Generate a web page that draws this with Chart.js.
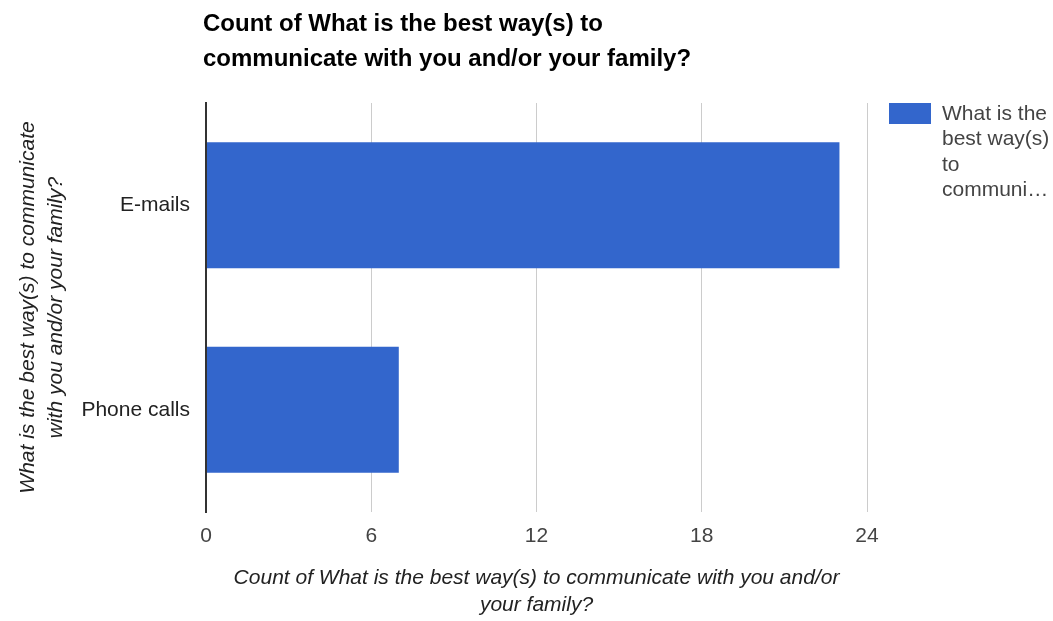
<!DOCTYPE html>
<html>
<head>
<meta charset="utf-8">
<script src="https://cdn.jsdelivr.net/npm/chart.js@4/dist/chart.umd.min.js"></script>
<style>
  body { margin: 0; background: #fff; }
  canvas { display: block; }
</style>
</head>
<body>
<canvas id="grafico" width="1053" height="621"></canvas>
<script>
// datos del grafico
const categorias = ['E-mails', 'Phone calls'];
const cantidades = [23, 7];
const ticks_x = [0, 6, 12, 18, 24];
const titulo = ['Count of What is the best way(s) to', 'communicate with you and/or your family?'];
const titulo_y = ['What is the best way(s) to communicate', 'with you and/or your family?'];
const titulo_x = ['Count of What is the best way(s) to communicate with you and/or', 'your family?'];
const nombre_serie = 'What is the best way(s) to communicate with you and/or your family?';
const leyenda_lineas = ['What is the', 'best way(s)', 'to', 'communi\u2026'];

const fuente = '"Liberation Sans", Arial, sans-serif';
const azul = '#3366cc';

// titulo y leyenda dibujados a mano
const extras = {
  id: 'extras',
  afterDraw(chart) {
    const ctx = chart.ctx;
    const area = chart.chartArea;
    ctx.save();
    ctx.fillStyle = '#000';
    ctx.font = 'bold 24px ' + fuente;
    ctx.textBaseline = 'alphabetic';
    ctx.textAlign = 'left';
    titulo.forEach((t, i) => ctx.fillText(t, area.left - 3, 31 + i * 35));

    // leyenda
    const lx = area.right + 22;
    ctx.fillStyle = azul;
    ctx.fillRect(lx, area.top, 42, 21);
    ctx.fillStyle = '#444';
    ctx.font = '21px ' + fuente;
    ctx.textBaseline = 'middle';
    leyenda_lineas.forEach((t, i) => ctx.fillText(t, lx + 53, area.top + 11 + i * 25.5));
    ctx.restore();
  }
};

new Chart(document.getElementById('grafico'), {
  type: 'bar',
  data: {
    labels: categorias,
    datasets: [{
      label: nombre_serie,
      data: cantidades,
      backgroundColor: azul,
      borderWidth: 0,
      barPercentage: 0.616,
      categoryPercentage: 1
    }]
  },
  options: {
    indexAxis: 'y',
    responsive: false,
    animation: false,
    devicePixelRatio: 1,
    layout: { padding: { top: 103, right: 186, left: 0, bottom: 0 } },
    plugins: {
      legend: { display: false },
      title: { display: false },
      tooltip: { enabled: false }
    },
    scales: {
      x: {
        min: 0,
        max: 24,
        afterBuildTicks: (escala) => { escala.ticks = ticks_x.map(v => ({ value: v })); },
        afterFit: (escala) => { escala.height = 109; },
        grid: {
          color: (c) => (c.tick && c.tick.value === 0 ? '#333' : '#ccc'),
          lineWidth: (c) => (c.tick && c.tick.value === 0 ? 2 : 1),
          drawTicks: false
        },
        border: { display: false },
        ticks: {
          color: '#444',
          font: { family: fuente, size: 21 },
          padding: 12
        },
        title: {
          display: true,
          text: titulo_x,
          color: '#222',
          font: { family: fuente, size: 21, style: 'italic', lineHeight: 1.3 },
          padding: { top: 0, bottom: 2 }
        }
      },
      y: {
        afterFit: (escala) => { escala.width = 206; },
        grid: { display: false, drawTicks: false },
        border: { display: true, color: '#333', width: 2 },
        ticks: {
          color: '#222',
          font: { family: fuente, size: 21 },
          padding: 16
        },
        title: {
          display: true,
          text: titulo_y,
          color: '#222',
          font: { family: fuente, size: 21, style: 'italic', lineHeight: 1.3 },
          padding: { top: 15, bottom: 0 }
        }
      }
    }
  },
  plugins: [extras]
});
</script>
</body>
</html>
